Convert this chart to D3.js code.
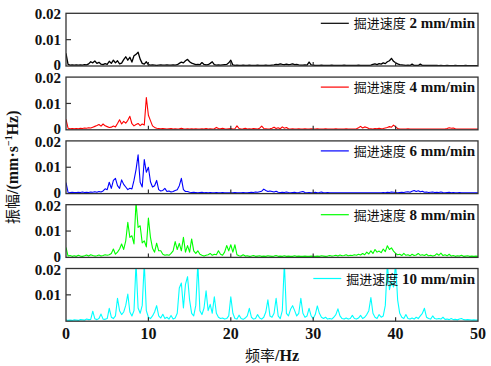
<!DOCTYPE html>
<html>
<head>
<meta charset="utf-8">
<script src="https://cdn.jsdelivr.net/npm/d3@7/dist/d3.min.js"></script>
<style>
body { margin: 0; background: #fff; }
</style>
</head>
<body>
<div id="chart"></div>
<script>
// feed speeds (mm/min), one panel each
const speeds = ["2", "4", "6", "8", "10"];

// amplitude spectra, sampled every 0.25 Hz from 0 to 50 Hz, values in 0.001 mm·s^-1/Hz
const freqStep = 0.25;

const amp2 = [
  4.8,0.6,0.3,0.4,0.3,0.4,0.3,0.4,0.3,0.5,0.4,0.8,1.6,1.2,1.9,1.0,1.4,0.7,0.5,0.9,
  0.6,1.8,1.0,2.2,1.2,2.0,0.8,1.1,2.4,3.5,2.2,3.3,1.5,3.9,4.4,5.2,2.6,1.0,0.7,1.6,
  0.5,0.3,0.4,0.3,0.2,0.3,0.4,0.3,0.3,0.4,0.3,0.3,0.4,0.3,0.5,1.0,1.5,1.2,2.0,2.5,
  1.6,1.1,0.8,0.5,0.6,0.5,1.3,0.6,0.4,0.5,1.0,1.6,0.5,0.3,0.4,0.3,0.4,0.5,0.6,1.2,
  2.2,0.4,0.2,0.3,0.2,0.2,0.3,0.2,0.2,0.3,0.2,0.2,0.2,0.3,0.2,0.2,0.2,0.3,0.2,0.2,
  0.3,0.4,0.6,0.5,0.8,0.6,0.5,0.7,0.5,0.6,0.8,0.5,0.6,0.4,0.3,0.3,0.4,0.3,1.5,0.4,
  0.3,0.2,0.2,0.2,0.3,0.2,0.2,0.2,0.2,0.3,0.2,0.2,0.2,0.2,0.2,0.3,0.2,0.2,0.2,0.2,
  0.2,0.2,0.3,0.2,0.2,0.2,0.2,0.2,0.3,0.6,0.8,0.5,0.9,0.7,1.2,0.9,1.6,2.0,2.9,1.8,
  1.2,0.8,0.5,0.4,0.3,0.2,0.3,0.2,0.7,0.2,0.2,0.2,0.7,0.2,0.2,0.2,0.2,0.2,0.2,0.2,
  0.2,0.1,0.2,0.1,0.1,0.2,0.1,0.1,0.1,0.2,0.1,0.1,0.1,0.1,0.2,0.1,0.1,0.1,0.1,0.1,0.1
];

const amp4 = [
  4.0,0.6,0.4,0.5,0.4,0.5,0.4,0.6,0.5,0.7,0.6,0.8,0.7,1.0,1.3,1.6,2.0,1.4,2.2,1.5,
  1.2,0.9,1.0,1.4,1.1,2.4,3.8,2.2,3.2,2.5,3.6,5.1,2.3,1.5,2.0,2.4,1.6,2.2,1.8,12.2,
  5.5,3.5,1.5,0.9,0.6,0.5,0.4,0.5,0.4,0.3,0.4,0.5,0.3,0.4,0.3,0.4,0.6,0.4,0.3,0.4,
  0.3,0.4,0.3,0.4,0.3,0.3,0.4,0.3,0.5,0.3,0.4,0.3,0.4,0.9,0.5,0.4,0.6,0.4,0.3,0.4,
  0.5,0.3,0.4,1.5,0.5,0.3,0.4,0.6,0.3,0.4,0.3,0.5,0.4,0.3,0.6,1.4,0.5,0.4,0.3,0.4,
  0.6,1.0,0.5,0.8,0.4,1.1,0.6,0.9,0.4,0.3,0.4,0.3,0.3,0.4,0.3,0.3,0.4,0.3,0.3,0.4,
  0.3,0.3,0.4,0.3,0.3,0.3,0.4,0.3,0.3,0.3,0.3,0.4,0.3,0.3,0.3,0.3,0.4,0.3,0.3,0.3,
  0.3,0.4,0.8,1.3,0.7,1.1,0.9,0.5,0.4,0.3,0.5,0.4,0.6,0.4,0.5,0.7,0.9,1.2,1.0,1.8,
  1.1,0.5,0.3,0.3,0.3,0.3,0.4,0.3,0.3,0.3,0.3,0.3,0.3,0.3,0.3,0.3,0.3,0.3,0.3,0.3,
  0.3,0.3,0.3,0.3,0.3,0.5,0.8,0.6,0.7,0.4,0.3,0.3,0.3,0.3,0.3,0.3,0.3,0.3,0.3,0.3,0.3
];

const amp6 = [
  4.2,0.5,0.4,0.5,0.4,0.4,0.5,0.4,0.6,0.4,0.5,0.4,0.6,0.5,0.7,0.5,0.8,0.6,1.0,1.8,
  1.5,4.3,2.0,5.0,5.8,3.0,2.0,5.2,3.5,2.5,1.5,2.0,1.8,5.0,9.1,14.7,4.3,2.5,12.9,8.1,
  10.0,4.5,2.5,3.0,5.0,1.5,1.0,1.2,2.0,0.8,1.0,0.6,0.8,1.2,1.5,3.0,5.8,1.5,0.8,0.8,
  0.5,0.4,0.5,0.4,0.3,0.4,0.5,0.3,0.4,0.3,0.4,0.3,0.3,0.4,0.3,0.3,0.4,0.3,0.3,0.3,
  0.3,0.3,0.4,0.3,0.3,0.3,0.4,0.3,0.3,0.4,0.5,0.4,0.6,0.5,0.7,0.9,1.7,1.2,0.8,1.0,
  0.8,0.6,0.9,0.5,0.4,0.5,0.4,0.6,0.4,0.3,0.4,0.5,0.3,0.4,0.6,0.8,0.4,0.3,0.4,0.3,
  0.3,0.5,0.3,0.4,0.6,0.3,0.3,0.4,0.3,0.3,0.3,0.3,0.3,0.3,0.3,0.3,0.3,0.3,0.3,0.3,
  0.3,0.3,0.3,0.3,0.3,0.3,0.3,0.3,0.3,0.3,0.3,0.3,0.3,0.3,0.4,0.3,0.5,0.4,0.6,0.5,
  0.4,0.3,0.4,0.5,0.4,0.6,0.7,0.5,0.9,1.2,0.8,1.1,0.7,0.9,0.5,0.6,0.4,0.5,0.6,0.4,
  0.5,0.4,0.6,0.4,0.3,0.4,0.5,0.3,0.4,0.3,0.3,0.4,0.3,0.3,0.3,0.3,0.3,0.3,0.3,0.3,0.3
];

const amp8 = [
  3.8,0.5,0.7,0.4,0.6,0.4,0.8,0.5,0.4,0.6,0.9,0.5,1.0,0.7,0.5,0.6,0.9,0.5,0.7,1.0,
  0.8,1.0,1.5,3.2,1.2,2.0,3.2,5.1,3.0,6.3,13.3,7.6,8.2,5.1,21.0,11.4,12.0,5.5,6.3,4.0,
  14.9,7.6,3.5,2.0,5.4,2.5,2.5,1.2,0.8,1.0,0.8,1.5,2.5,6.0,3.0,5.3,2.5,7.6,2.0,4.5,
  2.0,7.0,2.5,1.5,2.5,1.2,0.8,0.5,0.8,1.0,1.5,0.8,1.2,1.0,2.5,1.2,0.8,2.0,4.5,2.5,
  4.8,2.0,4.8,1.0,0.6,0.5,1.0,0.5,0.6,0.4,0.5,0.7,0.4,0.5,0.6,0.4,0.5,0.4,0.6,0.5,
  0.4,0.5,0.7,0.4,0.5,0.4,0.6,0.4,0.5,0.4,0.4,0.6,0.4,0.5,0.4,0.4,0.5,0.4,0.4,0.5,
  0.4,0.4,0.5,0.4,0.6,0.5,0.4,0.5,0.7,0.5,0.6,0.8,0.5,0.9,0.6,0.7,1.0,0.6,0.8,0.7,
  1.0,0.8,1.2,0.9,1.5,1.0,2.0,1.3,2.5,1.5,3.0,2.0,2.4,1.8,3.2,2.2,4.4,3.0,3.6,2.4,
  1.5,1.0,1.2,0.7,1.5,0.8,1.0,0.6,1.2,0.7,0.9,1.5,0.8,1.0,0.7,1.2,0.6,0.8,0.5,0.7,
  1.4,0.8,1.6,0.7,1.0,0.6,1.2,0.5,0.7,0.4,0.6,0.5,0.8,0.4,0.5,0.6,0.4,0.5,0.4,0.5,0.4
];

const amp10 = [
  0.5,0.3,0.4,0.3,0.5,0.4,0.3,0.6,0.5,0.4,0.8,0.6,0.7,3.8,0.9,0.6,1.0,2.7,0.8,0.7,
  1.0,4.9,1.5,1.0,2.0,8.7,4.0,2.5,3.5,6.0,10.3,3.5,2.0,4.0,22.0,5.0,3.0,6.0,22.0,4.0,
  1.5,1.0,2.0,3.5,5.9,2.0,1.2,2.6,1.0,1.5,0.8,2.2,0.8,1.2,3.0,12.6,14.5,5.0,14.0,16.9,
  8.0,3.0,2.0,6.0,22.0,4.0,2.5,5.0,11.5,4.0,6.4,3.0,9.3,3.0,1.5,1.0,1.2,0.8,1.0,2.0,
  9.3,3.0,1.0,0.8,2.3,1.0,0.7,1.2,2.0,4.9,1.5,0.8,1.0,2.5,1.2,0.8,1.5,3.5,8.1,2.0,
  1.5,3.0,8.7,2.0,1.0,4.0,22.0,3.0,2.0,4.5,5.9,4.0,2.0,3.0,8.7,3.0,1.5,2.0,4.9,2.0,
  1.0,2.5,5.8,3.0,1.5,1.0,1.5,0.8,1.0,0.8,1.5,2.5,4.7,2.0,1.0,0.8,1.2,0.8,1.0,2.2,
  1.0,0.8,1.2,2.2,1.0,1.5,2.5,4.0,9.0,3.0,1.5,1.0,2.5,1.5,2.0,6.0,22.0,12.0,15.0,13.0,
  22.0,8.0,3.0,1.5,1.0,2.5,1.0,0.8,1.2,0.8,1.5,1.0,2.0,3.0,4.9,1.5,1.0,0.8,2.0,1.0,
  0.8,1.0,0.8,1.5,0.7,0.8,0.6,1.0,0.6,0.7,0.5,0.8,1.0,0.6,0.5,0.6,0.5,0.4,0.5,0.4,0.4
];

const series = [amp2, amp4, amp6, amp8, amp10];
const colors = ["#000000", "#ff0000", "#0000ff", "#00ff00", "#00ffff"];

const xTicks = [0, 10, 20, 30, 40, 50];
const yTicks = [0, 0.01, 0.02];
const yTickLabels = ["0", "0.01", "0.02"];

const width = 491, height = 366;
const plotLeft = 66, plotRight = 478;
const panelTop = 13.3, panelStep = 63.8, panelH = 52.7;

const numFont = "'Liberation Serif', 'Times New Roman', serif";
const cjkFont = "'Noto Sans CJK SC', sans-serif";

const svg = d3.select("#chart")
    .append("svg")
    .attr("width", width)
    .attr("height", height);

const x = d3.scaleLinear()
    .domain([0, 50])
    .range([plotLeft, plotRight]);

// baseline offsets so the 0 and the next 0.02 do not collide
const labelShift = [4.2, 5.2, 6.0];

series.forEach(function(vals, i) {
    const top = panelTop + i * panelStep;
    const y = d3.scaleLinear()
        .domain([0, 0.02])
        .range([top + panelH, top]);

    const g = svg.append("g").attr("class", "panel");

    g.append("clipPath")
        .attr("id", "clip" + i)
        .append("rect")
        .attr("x", plotLeft)
        .attr("y", top)
        .attr("width", plotRight - plotLeft)
        .attr("height", panelH);

    const line = d3.line()
        .x(function(d, j) { return x(j * freqStep); })
        .y(function(d) { return y(d * 0.001); });

    g.append("path")
        .datum(vals)
        .attr("clip-path", "url(#clip" + i + ")")
        .attr("d", line)
        .attr("fill", "none")
        .attr("stroke", colors[i])
        .attr("stroke-width", i == 0 ? 1.3 : 1.1)
        .attr("stroke-linejoin", "round");

    // inward ticks
    g.selectAll(".xt")
        .data(xTicks.slice(1, -1))
        .enter().append("line")
        .attr("x1", function(d) { return x(d); })
        .attr("x2", function(d) { return x(d); })
        .attr("y1", top + panelH)
        .attr("y2", top + panelH - 4)
        .attr("stroke", "#333")
        .attr("stroke-width", 1.2);

    g.append("line")
        .attr("x1", plotLeft)
        .attr("x2", plotLeft + 5)
        .attr("y1", y(0.01))
        .attr("y2", y(0.01))
        .attr("stroke", "#333")
        .attr("stroke-width", 1.2);

    g.append("rect")
        .attr("x", plotLeft)
        .attr("y", top)
        .attr("width", plotRight - plotLeft)
        .attr("height", panelH)
        .attr("fill", "none")
        .attr("stroke", "#333")
        .attr("stroke-width", 1.3);

    // y labels (last panel leaves the 0 to the x axis)
    const labelIdx = i == series.length - 1 ? [1, 2] : [0, 1, 2];
    g.selectAll(".yl")
        .data(labelIdx)
        .enter().append("text")
        .attr("x", 61)
        .attr("y", function(k) { return y(yTicks[k]) + labelShift[k]; })
        .attr("text-anchor", "end")
        .attr("font-family", numFont)
        .attr("font-weight", "bold")
        .attr("font-size", "15px")
        .attr("fill", "#111")
        .text(function(k) { return yTickLabels[k]; });

    // legend
    const lg = g.append("text")
        .attr("x", 475)
        .attr("y", top + 15)
        .attr("text-anchor", "end")
        .attr("fill", "#111");
    lg.append("tspan")
        .attr("font-family", cjkFont)
        .attr("font-size", "13px")
        .text("掘进速度");
    lg.append("tspan")
        .attr("font-family", numFont)
        .attr("font-weight", "bold")
        .attr("font-size", "15px")
        .text(" " + speeds[i] + " mm/min");

    const bb = lg.node().getBBox();
    g.append("line")
        .attr("x1", bb.x - 33)
        .attr("x2", bb.x - 5)
        .attr("y1", top + 10)
        .attr("y2", top + 10)
        .attr("stroke", colors[i])
        .attr("stroke-width", 1.2);
});

const bottom = panelTop + 4 * panelStep + panelH;

svg.selectAll(".xl")
    .data(xTicks)
    .enter().append("text")
    .attr("x", function(d) { return x(d); })
    .attr("y", bottom + 18)
    .attr("text-anchor", "middle")
    .attr("font-family", numFont)
    .attr("font-weight", "bold")
    .attr("font-size", "16px")
    .attr("fill", "#111")
    .text(function(d) { return d; });

const xLabel = svg.append("text")
    .attr("x", x(25))
    .attr("y", 361)
    .attr("text-anchor", "middle")
    .attr("fill", "#111");
xLabel.append("tspan")
    .attr("font-family", cjkFont)
    .attr("font-size", "15px")
    .text("频率");
xLabel.append("tspan")
    .attr("font-family", numFont)
    .attr("font-weight", "bold")
    .attr("font-size", "16px")
    .text("/Hz");

const yLabel = svg.append("text")
    .attr("transform", "translate(18," + ((panelTop + bottom) / 2) + ") rotate(-90)")
    .attr("text-anchor", "middle")
    .attr("fill", "#111");
yLabel.append("tspan")
    .attr("font-family", cjkFont)
    .attr("font-size", "15px")
    .text("振幅");
yLabel.append("tspan")
    .attr("font-family", numFont)
    .attr("font-weight", "bold")
    .attr("font-size", "16px")
    .text("/(mm·s");
yLabel.append("tspan")
    .attr("font-family", numFont)
    .attr("font-weight", "bold")
    .attr("font-size", "10px")
    .attr("dy", -6)
    .text("−1");
yLabel.append("tspan")
    .attr("font-family", numFont)
    .attr("font-weight", "bold")
    .attr("font-size", "16px")
    .attr("dy", 6)
    .text("Hz)");
</script>
</body>
</html>
